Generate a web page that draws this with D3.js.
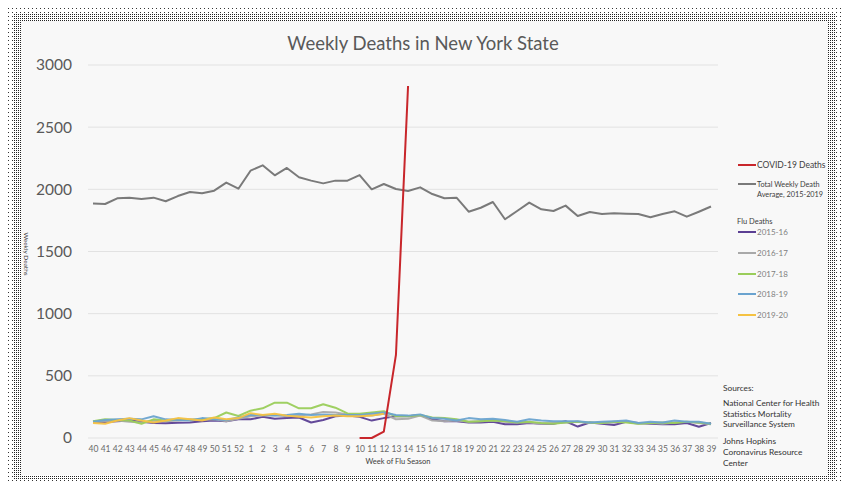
<!DOCTYPE html>
<html><head><meta charset="utf-8">
<script src="https://cdn.jsdelivr.net/npm/d3@7"></script>
<style>body{margin:0;background:#fff;}svg{display:block;font-family:Lato,'Open Sans',sans-serif;}</style>
</head><body><svg id="c" width="850" height="497"></svg>
<script>
const weeks = ["40","41","42","43","44","45","46","47","48","49","50","51","52",
  "1","2","3","4","5","6","7","8","9","10","11","12","13",
  "14","15","16","17","18","19","20","21","22","23","24","25","26",
  "27","28","29","30","31","32","33","34","35","36","37","38","39"];
const yTicks = [0,500,1000,1500,2000,2500,3000];
const totalAvg = [1887,1882,1928,1933,1922,1933,1904,1946,1979,1968,1989,2054,2005,
  2150,2193,2113,2172,2097,2070,2048,2070,2070,2115,2000,2043,2003,
  1986,2016,1962,1928,1933,1820,1852,1898,1759,1826,1893,1839,1826,
  1869,1786,1818,1802,1807,1804,1802,1775,1802,1823,1780,1820,1862];
const covid = [null,null,null,null,null,null,null,null,null,null,null,null,null,
  null,null,null,null,null,null,null,null,null,0,0,51,668,
  2831,null,null,null,null,null,null,null,null,null,null,null,null,
  null,null,null,null,null,null,null,null,null,null,null,null,null];
const flu1516 = [130,128,135,140,130,120,118,122,125,135,140,135,150,
  150,170,155,160,165,125,145,175,180,170,140,160,175,
  175,185,150,135,135,125,125,130,110,110,120,115,115,
  135,92,125,115,105,130,120,115,110,110,120,90,120];
const flu1617 = [130,135,140,130,125,140,135,140,150,145,150,135,155,
  175,180,185,175,180,190,210,205,190,180,180,195,150,
  155,180,140,135,140,130,135,140,130,125,125,115,120,
  125,130,120,120,125,130,115,120,115,125,130,120,110];
const flu1718 = [135,150,145,140,115,150,140,150,145,150,160,205,177,
  220,239,284,284,239,239,271,244,198,195,205,215,175,
  175,185,165,160,150,130,135,140,135,125,130,120,115,
  125,130,125,120,130,125,115,120,125,120,130,125,115];
const flu1819 = [130,145,150,155,150,175,150,145,140,160,150,145,165,
  185,185,180,185,195,185,190,185,185,185,195,205,185,
  180,190,160,155,140,160,150,155,145,130,150,140,135,
  135,135,125,130,135,140,120,130,125,140,130,130,115];
const flu1920 = [120,115,140,160,140,125,140,160,150,140,165,150,160,
  200,185,195,180,170,165,175,180,175,175,180,195,null,
  null,null,null,null,null,null,null,null,null,null,null,null,null,
  null,null,null,null,null,null,null,null,null,null,null,null,null];

const series = [
  {name:"2015-16", values:flu1516, color:"#5b3f93"},
  {name:"2016-17", values:flu1617, color:"#a9a9a9"},
  {name:"2017-18", values:flu1718, color:"#9acd5a"},
  {name:"2018-19", values:flu1819, color:"#6aa3cf"},
  {name:"2019-20", values:flu1920, color:"#f5c242"}
];

const svg = d3.select("#c");
const defs = svg.append("defs");
const pDense = defs.append("pattern").attr("id","pd").attr("width",2).attr("height",2).attr("patternUnits","userSpaceOnUse");
pDense.append("rect").attr("width",1).attr("height",1).attr("fill","#222");
const pSparse = defs.append("pattern").attr("id","ps").attr("width",4).attr("height",4).attr("patternUnits","userSpaceOnUse");
pSparse.append("rect").attr("width",1).attr("height",1).attr("fill","#333");

// frame
svg.append("rect").attr("x",8).attr("y",8).attr("width",836).attr("height",476).attr("fill","url(#ps)");
svg.append("rect").attr("x",14).attr("y",14).attr("width",822).attr("height",465).attr("fill","url(#pd)");
svg.append("rect").attr("x",21).attr("y",21).attr("width",807).attr("height",454).attr("fill","#f8f8f8");

const x = d3.scalePoint().domain(weeks).range([93, 711]);
const y = d3.scaleLinear().domain([0,3000]).range([438, 65]);

// gridlines
svg.append("g").selectAll("line").data(yTicks).join("line")
  .attr("x1",88).attr("x2",718).attr("y1",d=>y(d)).attr("y2",d=>y(d))
  .attr("stroke","#e2e2e2").attr("stroke-width",1);

// y axis
const ya = svg.append("g").attr("transform","translate(72,0)")
  .call(d3.axisLeft(y).tickValues(yTicks).tickSize(0).tickPadding(0).tickFormat(d3.format("d")));
ya.select(".domain").remove();
ya.selectAll("text").attr("font-size",15.5).attr("fill","#595959").attr("font-family","Lato,'Open Sans',sans-serif");

// x axis
const xa = svg.append("g").attr("transform","translate(0,446)")
  .call(d3.axisBottom(x).tickSize(0).tickPadding(0));
xa.select(".domain").remove();
xa.selectAll("text").attr("font-size",8.5).attr("fill","#6a6a6a").attr("font-family","Lato,'Open Sans',sans-serif");

const line = d3.line().defined(d=>d[1]!==null).x(d=>x(d[0])).y(d=>y(d[1]));
const mk = vals => weeks.map((w,i)=>[w, vals[i]]);

series.forEach(s=>{
  svg.append("path").datum(mk(s.values)).attr("d",line)
    .attr("fill","none").attr("stroke",s.color).attr("stroke-width",2).attr("stroke-linejoin","round").attr("opacity",0.95);
});
svg.append("path").datum(mk(totalAvg)).attr("d",line)
  .attr("fill","none").attr("stroke","#7a7a7a").attr("stroke-width",2).attr("stroke-linejoin","round");
svg.append("path").datum(mk(covid)).attr("d",line)
  .attr("fill","none").attr("stroke","#c8262b").attr("stroke-width",2).attr("stroke-linejoin","round");

// title
svg.append("text").attr("x",423).attr("y",50).attr("text-anchor","middle")
  .attr("font-size",18.5).attr("fill","#595959").text("Weekly Deaths in New York State");

// axis titles
svg.append("text").attr("x",398).attr("y",464).attr("text-anchor","middle")
  .attr("font-size",7.5).attr("fill","#404040").text("Week of Flu Season");
svg.append("text").attr("transform","translate(24,254) rotate(90)").attr("text-anchor","middle")
  .attr("font-size",6.5).attr("fill","#404040").text("Weekly Deaths");

// legend
const lg = svg.append("g").attr("font-size",8.3).attr("fill","#404040");
function legLine(yy,color){ lg.append("line").attr("x1",738).attr("x2",756).attr("y1",yy).attr("y2",yy).attr("stroke",color).attr("stroke-width",2); }
legLine(165,"#c8262b");
lg.append("text").attr("x",757).attr("y",168).attr("font-size",8.5).text("COVID-19 Deaths");
legLine(184,"#7a7a7a");
lg.append("text").attr("x",757).attr("y",187).attr("font-size",7.3).text("Total Weekly Death");
lg.append("text").attr("x",757).attr("y",197).attr("font-size",7.3).text("Average,  2015-2019");
lg.append("text").attr("x",737).attr("y",224).attr("font-size",7.5).text("Flu Deaths");
const legY = [232,253,274,294,315];
series.forEach((s,i)=>{
  legLine(legY[i], s.color);
  lg.append("text").attr("x",757).attr("y",legY[i]+3).attr("font-size",8).attr("fill","#808080").text(s.name);
});

// sources
const src = ["Sources:","National Center for Health","Statistics Mortality","Surveillance System","Johns Hopkins","Coronavirus Resource","Center"];
const srcY = [391,406,417,427,444,455,466];
svg.append("g").selectAll("text").data(src).join("text")
  .attr("x",723).attr("y",(d,i)=>srcY[i]).attr("font-size",8.3).attr("fill","#333").text(d=>d);
</script></body></html>
